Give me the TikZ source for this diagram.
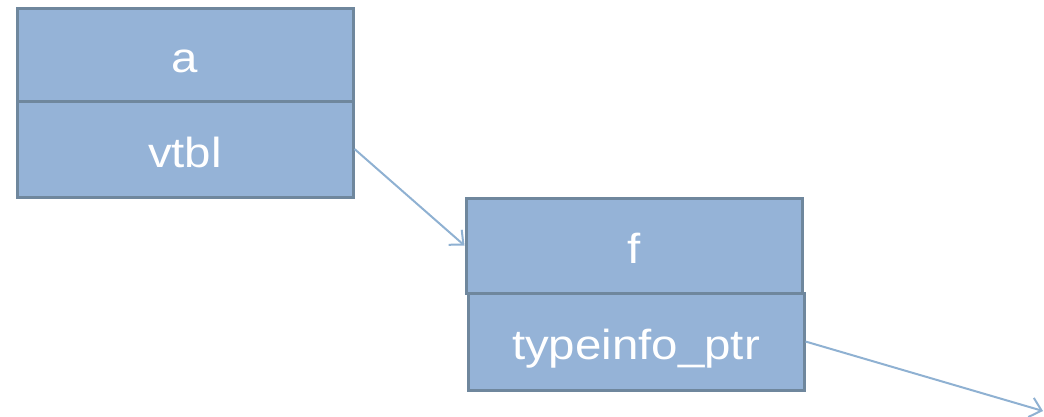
\documentclass[tikz,border=0pt]{standalone}
\usepackage{fontspec}
\setmainfont{Liberation Sans}
\usetikzlibrary{arrows.meta}
\definecolor{cellfill}{HTML}{95B3D7}
\definecolor{celledge}{HTML}{6F879D}
\definecolor{linkcol}{HTML}{8FB1D2}
\newcommand{\widetext}[1]{\scalebox{1.13}[1]{#1}}
\tikzset{
  cell/.style={draw=celledge, fill=cellfill, line width=3pt, rectangle,
    minimum width=336pt, text=white, font=\fontsize{42}{48}\selectfont,
    inner sep=0pt, text height=36pt, text depth=0pt},
  link/.style={draw=linkcol, line width=2pt,
    -{Straight Barb[length=11pt,width=20pt,line width=2pt]}}
}
\begin{document}
\begin{tikzpicture}[x=1pt,y=-1pt]
  \useasboundingbox (0,0) rectangle (1044,416);
  % object record
  \node[cell, minimum height=93pt] (a) at (185,54.5) {\widetext{a}};
  \node[cell, minimum height=96pt] (vtbl) at (185,149) {\widetext{vtbl}};
  % vtable record
  \node[cell, minimum height=95pt] (f) at (634,245.5) {\widetext{f}};
  \node[cell, minimum height=97pt] (tp) at (636,341.5) {\widetext{typeinfo\_ptr}};
  \coordinate (tpend) at (1043,411);
  % pointers
  \draw[link] (vtbl.east) -- (f.west);
  \draw[link] (tp.east) -- (tpend);
\end{tikzpicture}
\end{document}
